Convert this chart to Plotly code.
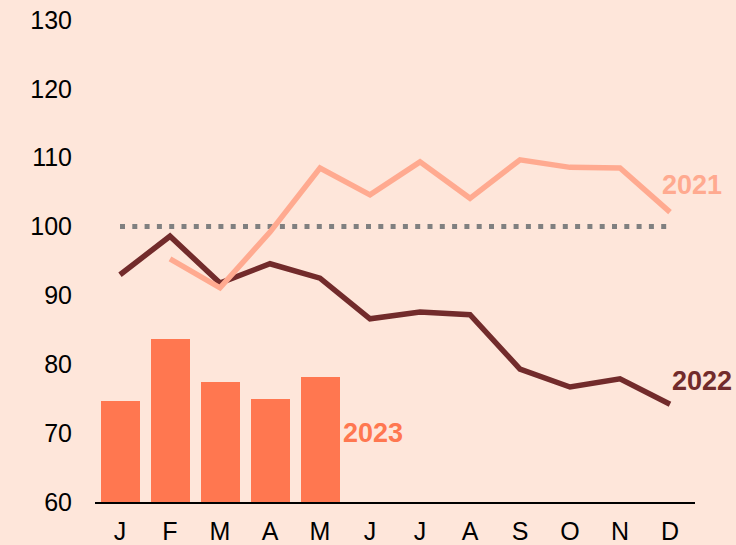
import plotly.graph_objects as go

months = ["J", "F", "M", "A", "M", "J", "J", "A", "S", "O", "N", "D"]
x_idx = list(range(12))

vals_2023 = [74.7, 83.7, 77.4, 75.0, 78.2]
vals_2022 = [93.0, 98.6, 91.8, 94.6, 92.5, 86.6, 87.6, 87.2, 79.3, 76.7, 77.9, 74.2]
vals_2021 = [None, 95.3, 91.1, 99.2, 108.5, 104.6, 109.4, 104.1, 109.7, 108.6, 108.5, 102.1]
baseline = [100] * 12

c_bg = "#FEE6DA"
c_2023 = "#FF7750"
c_2022 = "#722B2B"
c_2021 = "#FFAA90"
c_ref = "#808080"

fig = go.Figure()
fig.add_trace(go.Bar(x=x_idx[:5], y=[v - 60 for v in vals_2023], base=60,
                     marker=dict(color=c_2023, line=dict(width=0)), width=0.78))
fig.add_trace(go.Scatter(x=x_idx, y=baseline, mode="lines",
                         line=dict(color=c_ref, width=5, dash="5px,7.3px")))
fig.add_trace(go.Scatter(x=x_idx, y=vals_2022, mode="lines",
                         line=dict(color=c_2022, width=5.5)))
fig.add_trace(go.Scatter(x=x_idx, y=vals_2021, mode="lines",
                         line=dict(color=c_2021, width=5.5)))

lab_font = "Liberation Sans, Arial"
fig.add_annotation(x=11, y=vals_2021[-1], text="<b>2021</b>", showarrow=False,
                   xanchor="left", xshift=-10, yshift=27,
                   font=dict(family=lab_font, size=27, color=c_2021))
fig.add_annotation(x=11, y=vals_2022[-1], text="<b>2022</b>", showarrow=False,
                   xanchor="left", xshift=0, yshift=23,
                   font=dict(family=lab_font, size=27, color=c_2022))
fig.add_annotation(x=4, y=vals_2023[-1], text="<b>2023</b>", showarrow=False,
                   xanchor="left", xshift=21, yshift=-56,
                   font=dict(family=lab_font, size=27, color=c_2023))

fig.update_layout(
    width=736, height=545,
    paper_bgcolor=c_bg, plot_bgcolor=c_bg,
    margin=dict(l=95, r=41, t=20, b=43, autoexpand=False),
    showlegend=False,
    bargap=0,
    font=dict(family="Liberation Sans, Arial", size=25, color="#000000"),
    xaxis=dict(range=[-0.5, 11.5], tickvals=x_idx, ticktext=months,
               showgrid=False, zeroline=False, showline=True, automargin=False,
               linecolor="#000000", linewidth=2, ticks="", ticklabelstandoff=6),
    yaxis=dict(range=[60, 130], dtick=10, tick0=60, showgrid=False, automargin=False,
               zeroline=False, showline=False, ticks="", ticklabelstandoff=22),
)

fig.write_html("out.html", config={"displayModeBar": False},
               post_script="document.body.style.margin='0';document.body.style.padding='0';document.body.style.background='" + c_bg + "';")
